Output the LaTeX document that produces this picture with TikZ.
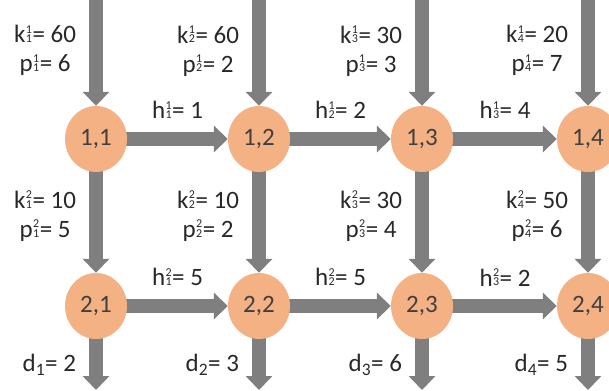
\documentclass[tikz,border=0pt]{standalone}
\usepackage{fontspec}
\setmainfont{Carlito}
\usetikzlibrary{arrows.meta,backgrounds,shapes.geometric}
\definecolor{nodeorange}{RGB}{244,177,131}
\definecolor{flowgray}{RGB}{127,127,127}
\definecolor{labelgray}{RGB}{40,40,40}
\newcommand{\ix}[2]{\kern0.5pt\raisebox{0.5pt}{\fontsize{12}{12}\selectfont\shortstack{#1\\[-1.5pt]#2}}\kern0.5pt}
\newcommand{\sub}[1]{$_{\text{#1}}$}
\usepackage{amsmath}
\begin{document}
\begin{tikzpicture}[x=1pt,y=-1pt,font=\fontsize{25}{29}\selectfont,
    stage/.style={ellipse,fill=nodeorange,text=black!75,minimum width=62pt,minimum height=66pt,inner sep=0pt},
    flow/.style={draw=flowgray,line width=14pt,shorten <=-5pt,-{Triangle[width=26pt,length=14pt]}},
    vlabel/.style={left=13pt,inner sep=0pt,align=center,text=labelgray},
    hlabel/.style={above=13pt,inner sep=0pt,text=labelgray}]
  \useasboundingbox (0,0) rectangle (609,390);
  \node[stage] (n11) at (96,139) {1,1};
  \node[stage] (n12) at (259,139) {1,2};
  \node[stage] (n13) at (422,139) {1,3};
  \node[stage] (n14) at (588,139) {1,4};
  \node[stage] (n21) at (96,306) {2,1};
  \node[stage] (n22) at (259,306) {2,2};
  \node[stage] (n23) at (422,306) {2,3};
  \node[stage] (n24) at (588,306) {2,4};
  \coordinate (in1) at (96,0);
  \coordinate (in2) at (259,0);
  \coordinate (in3) at (422,0);
  \coordinate (in4) at (588,0);
  \coordinate (out1) at (96,390);
  \coordinate (out2) at (259,390);
  \coordinate (out3) at (422,390);
  \coordinate (out4) at (588,390);
  \begin{scope}[on background layer]
    % arrivals into period 1
    \draw[flow] (in1) -- node[vlabel,pos=0.48] {k\ix{1}{1}= 60\\p\ix{1}{1}= 6} (n11);
    \draw[flow] (in2) -- node[vlabel,pos=0.48] {k\ix{1}{2}= 60\\p\ix{1}{2}= 2} (n12);
    \draw[flow] (in3) -- node[vlabel,pos=0.48] {k\ix{1}{3}= 30\\p\ix{1}{3}= 3} (n13);
    \draw[flow] (in4) -- node[vlabel,pos=0.48] {k\ix{1}{4}= 20\\p\ix{1}{4}= 7} (n14);
    % row 1
    \draw[flow] (n11) -- node[hlabel] {h\ix{1}{1}= 1} (n12);
    \draw[flow] (n12) -- node[hlabel] {h\ix{1}{2}= 2} (n13);
    \draw[flow] (n13) -- node[hlabel] {h\ix{1}{3}= 4} (n14);
    % level 1 to level 2
    \draw[flow] (n11) -- node[vlabel,pos=0.44] {k\ix{2}{1}= 10\\p\ix{2}{1}= 5} (n21);
    \draw[flow] (n12) -- node[vlabel,pos=0.44] {k\ix{2}{2}= 10\\p\ix{2}{2}= 2} (n22);
    \draw[flow] (n13) -- node[vlabel,pos=0.44] {k\ix{2}{3}= 30\\p\ix{2}{3}= 4} (n23);
    \draw[flow] (n14) -- node[vlabel,pos=0.44] {k\ix{2}{4}= 50\\p\ix{2}{4}= 6} (n24);
    % row 2
    \draw[flow] (n21) -- node[hlabel] {h\ix{2}{1}= 5} (n22);
    \draw[flow] (n22) -- node[hlabel] {h\ix{2}{2}= 5} (n23);
    \draw[flow] (n23) -- node[hlabel] {h\ix{2}{3}= 2} (n24);
    % demands
    \draw[flow] (n21) -- node[vlabel] {d\sub{1}= 2} (out1);
    \draw[flow] (n22) -- node[vlabel] {d\sub{2}= 3} (out2);
    \draw[flow] (n23) -- node[vlabel] {d\sub{3}= 6} (out3);
    \draw[flow] (n24) -- node[vlabel] {d\sub{4}= 5} (out4);
  \end{scope}
\end{tikzpicture}
\end{document}
